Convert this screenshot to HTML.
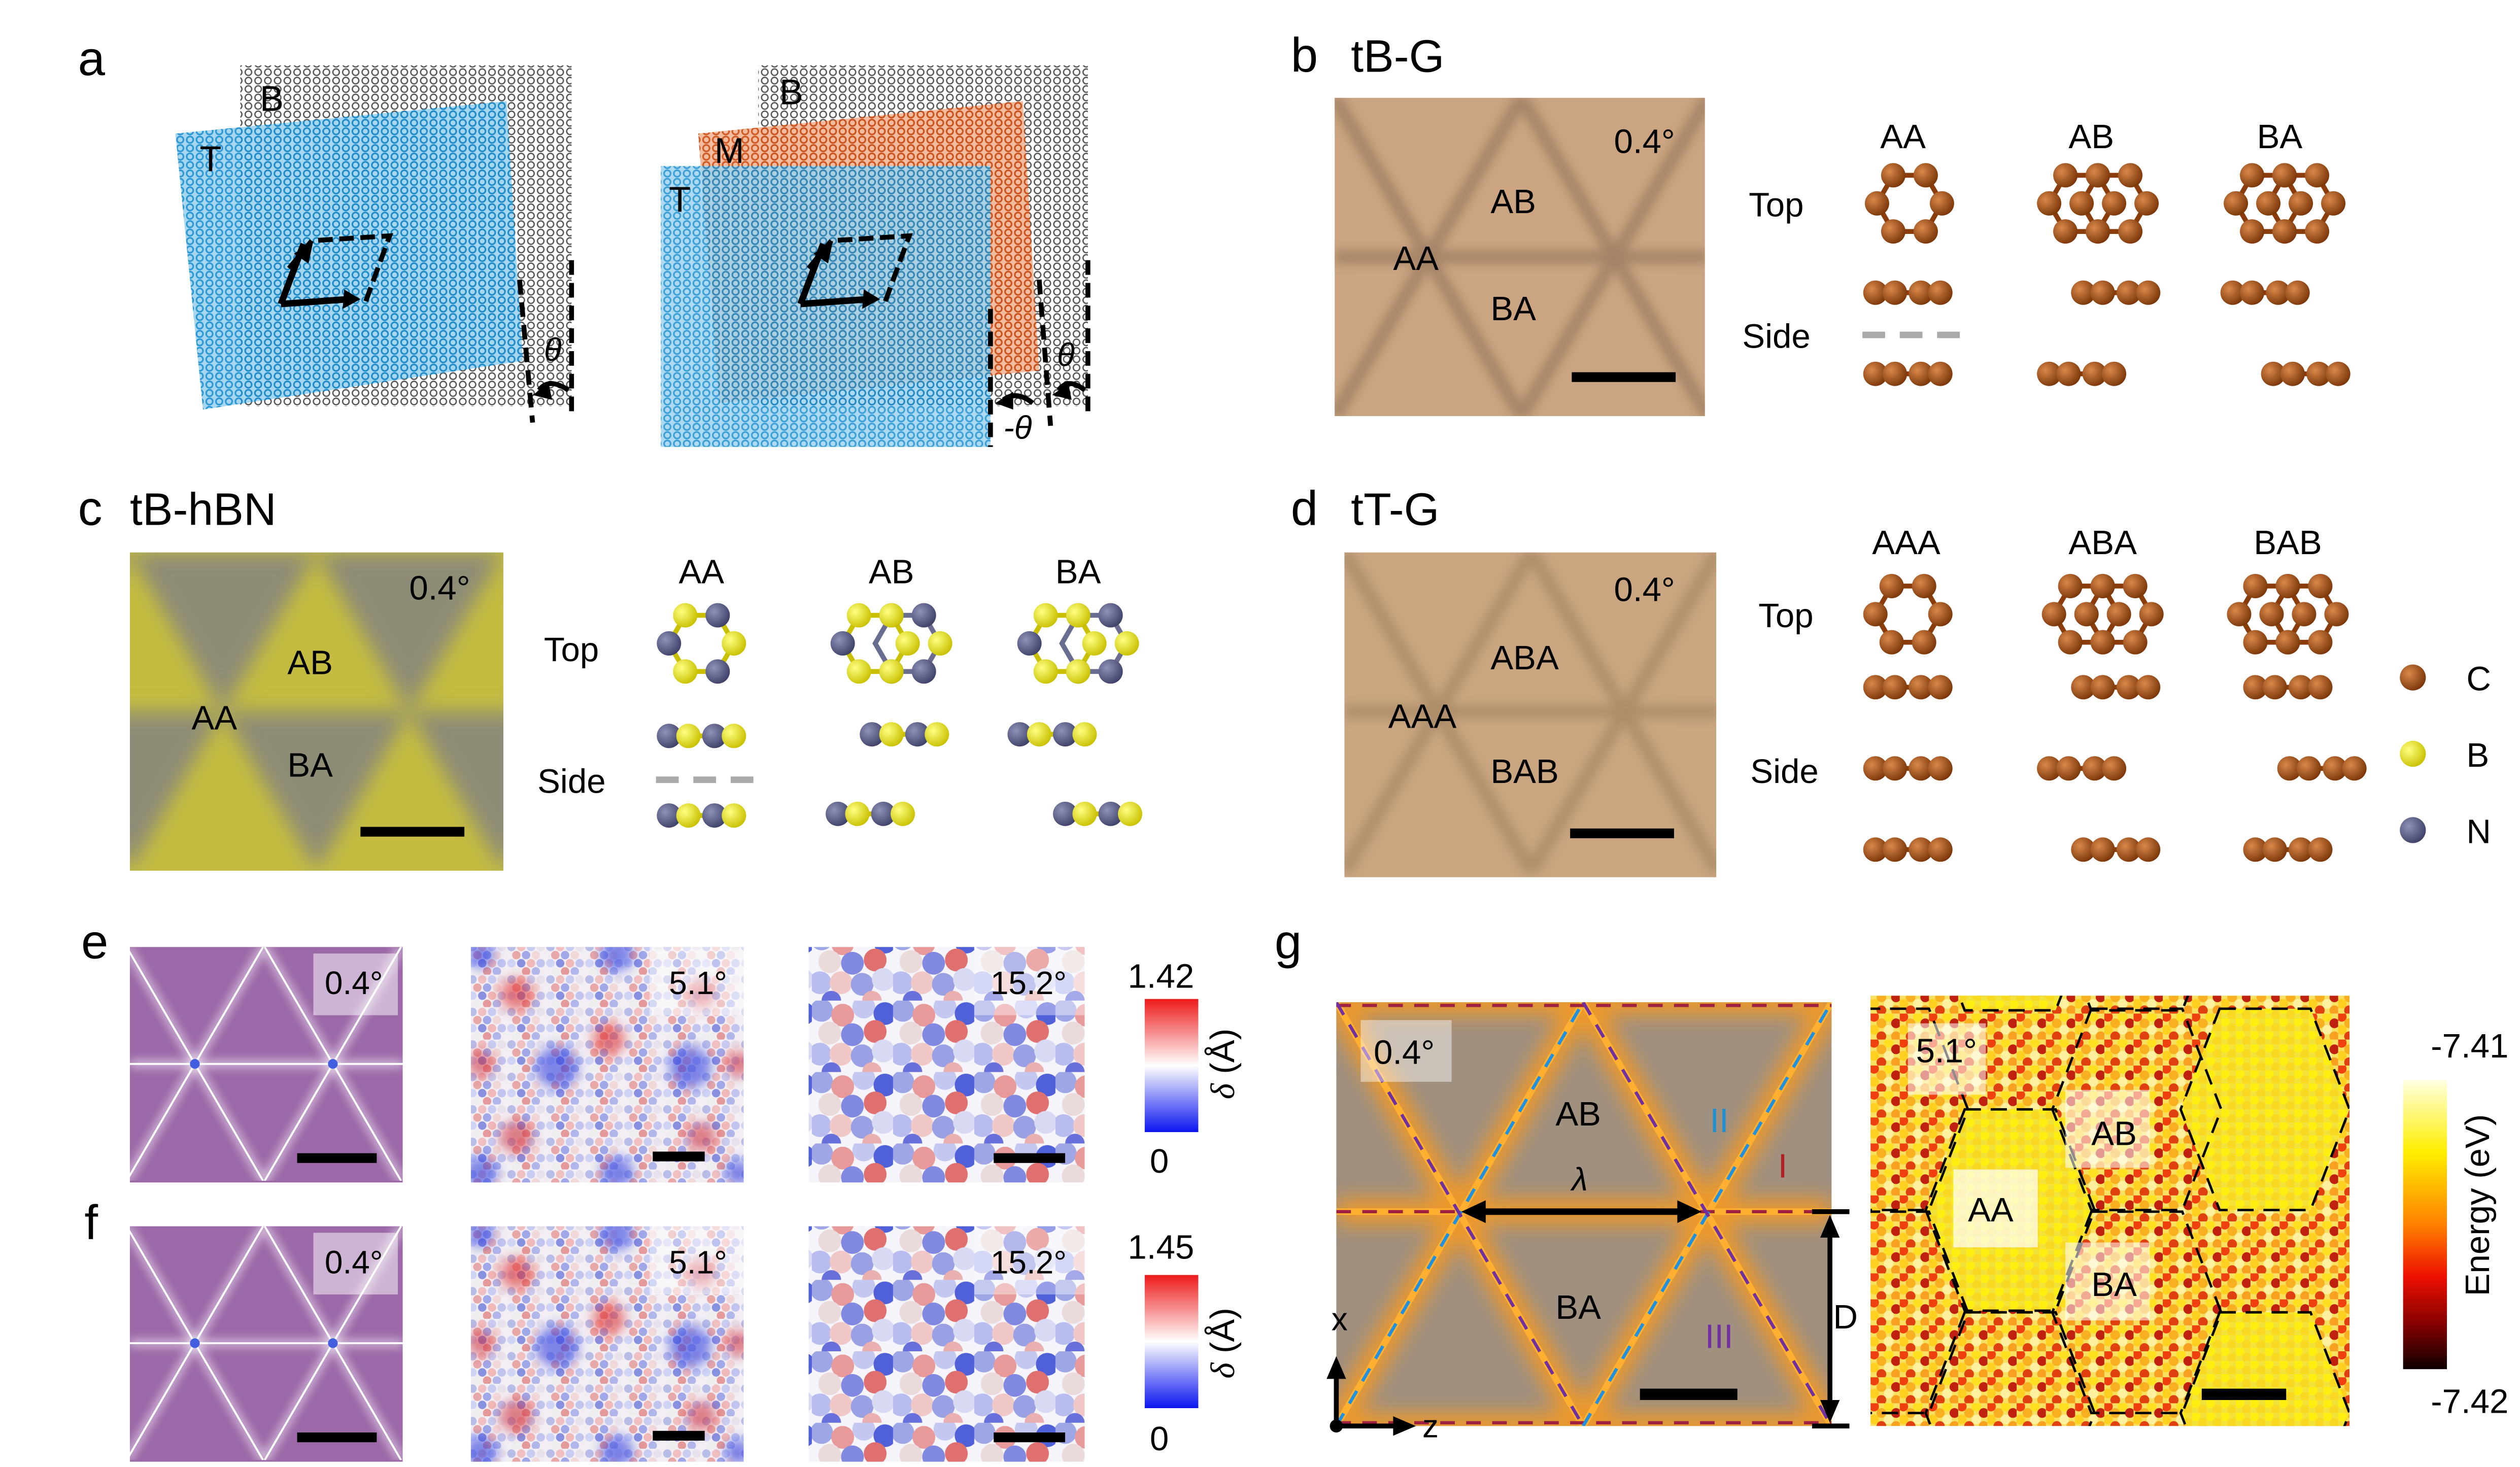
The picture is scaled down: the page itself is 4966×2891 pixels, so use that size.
<!DOCTYPE html>
<html><head><meta charset="utf-8"><style>html,body{margin:0;padding:0;background:#fff;width:4966px;height:2891px;overflow:hidden}svg{display:block}text{font-family:"Liberation Sans",sans-serif}</style></head><body>
<svg width="4966" height="2891" viewBox="0 0 1552 903" xmlns="http://www.w3.org/2000/svg" overflow="hidden">
<defs>
<radialGradient id="gc" cx="0.35" cy="0.35" r="0.7"><stop offset="0" stop-color="#d9884a"/><stop offset="1" stop-color="#7a3508"/></radialGradient>
<radialGradient id="gb" cx="0.35" cy="0.35" r="0.7"><stop offset="0" stop-color="#ffff80"/><stop offset="1" stop-color="#c8c000"/></radialGradient>
<radialGradient id="gn" cx="0.35" cy="0.35" r="0.7"><stop offset="0" stop-color="#8f92b8"/><stop offset="1" stop-color="#3e4068"/></radialGradient>
<g id="hexC"><polygon points="20,0 10,17.3 -10,17.3 -20,0 -10,-17.3 10,-17.3" fill="none" stroke="#8a3d0a" stroke-width="3"/>
<circle cx="20" cy="0" r="7.5" fill="url(#gc)"/><circle cx="10" cy="17.3" r="7.5" fill="url(#gc)"/><circle cx="-10" cy="17.3" r="7.5" fill="url(#gc)"/><circle cx="-20" cy="0" r="7.5" fill="url(#gc)"/><circle cx="-10" cy="-17.3" r="7.5" fill="url(#gc)"/><circle cx="10" cy="-17.3" r="7.5" fill="url(#gc)"/></g>
<g id="hexC2"><use href="#hexC" x="-10"/><use href="#hexC" x="10"/></g>
<g id="sideC"><line x1="-22" y1="0" x2="22" y2="0" stroke="#8a3d0a" stroke-width="3"/><circle cx="-20" r="7.5" fill="url(#gc)"/><circle cx="-8" r="7.5" fill="url(#gc)"/><circle cx="8" r="7.5" fill="url(#gc)"/><circle cx="20" r="7.5" fill="url(#gc)"/></g>
<g id="hexBN"><polygon points="20,0 10,17.3 -10,17.3 -20,0 -10,-17.3 10,-17.3" fill="none" stroke="#c8c000" stroke-width="3"/>
<circle cx="20" cy="0" r="7.5" fill="url(#gb)"/><circle cx="10" cy="17.3" r="7.5" fill="url(#gn)"/><circle cx="-10" cy="17.3" r="7.5" fill="url(#gb)"/><circle cx="-20" cy="0" r="7.5" fill="url(#gn)"/><circle cx="-10" cy="-17.3" r="7.5" fill="url(#gb)"/><circle cx="10" cy="-17.3" r="7.5" fill="url(#gn)"/></g>
<g id="hexBN2"><polygon points="30,0 20,17.3 0,17.3 -10,0 0,-17.3 20,-17.3" fill="none" stroke="#6a6c90" stroke-width="3"/><use href="#hexBN" x="-10"/>
<circle cx="30" cy="0" r="7.5" fill="url(#gb)"/><circle cx="20" cy="17.3" r="7.5" fill="url(#gn)"/><circle cx="0" cy="17.3" r="7.5" fill="url(#gb)"/><circle cx="20" cy="-17.3" r="7.5" fill="url(#gn)"/><circle cx="0" cy="-17.3" r="7.5" fill="url(#gb)"/></g>
<g id="sideBN"><line x1="-22" y1="0" x2="22" y2="0" stroke="#c8c000" stroke-width="3"/><circle cx="-20" r="7.5" fill="url(#gn)"/><circle cx="-8" r="7.5" fill="url(#gb)"/><circle cx="8" r="7.5" fill="url(#gn)"/><circle cx="20" r="7.5" fill="url(#gb)"/></g>
<pattern id="pgray" width="6" height="5.2" patternUnits="userSpaceOnUse"><rect width="6" height="5.2" fill="#fff"/><circle cx="3" cy="2.6" r="2" fill="none" stroke="#555" stroke-width="0.8"/></pattern>
<pattern id="pblue" width="6" height="5.2" patternUnits="userSpaceOnUse"><rect width="6" height="5.2" fill="#9fd3ee"/><circle cx="3" cy="2.6" r="2" fill="none" stroke="#1a8fd0" stroke-width="1"/></pattern>
<pattern id="porange" width="6" height="5.2" patternUnits="userSpaceOnUse"><rect width="6" height="5.2" fill="#f0b89a"/><circle cx="3" cy="2.6" r="2" fill="none" stroke="#d0521a" stroke-width="1"/></pattern>
<pattern id="pdots5" width="24" height="20" patternUnits="userSpaceOnUse"><rect width="24" height="20" fill="#f2eef4"/>
<circle cx="3" cy="3" r="2.6" fill="#b8bde8"/><circle cx="9" cy="3" r="2.6" fill="#f0c0c0"/><circle cx="15" cy="3" r="2.6" fill="#c8ccf0"/><circle cx="21" cy="3" r="2.6" fill="#e8e0ea"/>
<circle cx="6" cy="8" r="2.6" fill="#e8a8a8"/><circle cx="12" cy="8" r="2.6" fill="#a0a8e8"/><circle cx="18" cy="8" r="2.6" fill="#f0d8d8"/>
<circle cx="3" cy="13" r="2.6" fill="#d0d4f4"/><circle cx="9" cy="13" r="2.6" fill="#8890e0"/><circle cx="15" cy="13" r="2.6" fill="#f0b8b8"/><circle cx="21" cy="13" r="2.6" fill="#c0c4ee"/>
<circle cx="6" cy="18" r="2.6" fill="#eee" /><circle cx="12" cy="18" r="2.6" fill="#e49a9a"/><circle cx="18" cy="18" r="2.6" fill="#b0b6ea"/></pattern>
<pattern id="pdots15" width="50" height="44" patternUnits="userSpaceOnUse"><rect width="50" height="44" fill="#f4f4fa"/>
<circle cx="6" cy="6" r="7" fill="#9ea6e6"/><circle cx="19" cy="9" r="7" fill="#e89a9a"/><circle cx="32" cy="4" r="7" fill="#c4c8f0"/><circle cx="45" cy="8" r="7" fill="#5060d8"/>
<circle cx="11" cy="20" r="7" fill="#eadada"/><circle cx="25" cy="21" r="7" fill="#8088e0"/><circle cx="39" cy="19" r="7" fill="#e07070"/>
<circle cx="5" cy="33" r="7" fill="#b8bcee"/><circle cx="18" cy="33" r="7" fill="#f0c8c8"/><circle cx="31" cy="34" r="7" fill="#9aa0e4"/><circle cx="44" cy="31" r="7" fill="#d8daf4"/>
<circle cx="12" cy="44" r="6" fill="#6870dc"/><circle cx="37" cy="44" r="6" fill="#eab0b0"/></pattern>
<pattern id="pyel" width="9" height="8" patternUnits="userSpaceOnUse"><rect width="9" height="8" fill="#f2e23a"/><circle cx="2.2" cy="2" r="3" fill="#ffee10"/><circle cx="6.7" cy="6" r="3" fill="#f8d820"/></pattern>
<pattern id="pred" width="18" height="16" patternUnits="userSpaceOnUse"><rect width="18" height="16" fill="#f8e060"/><circle cx="2.2" cy="2" r="3" fill="#f04010"/><circle cx="6.7" cy="6" r="3" fill="#f8b020"/><circle cx="11.2" cy="2" r="3" fill="#ffe020"/><circle cx="15.7" cy="6" r="3" fill="#c02010"/><circle cx="2.2" cy="10" r="3" fill="#ffd020"/><circle cx="6.7" cy="14" r="3" fill="#e04010"/><circle cx="11.2" cy="10" r="3" fill="#fff0a0"/><circle cx="15.7" cy="14" r="3" fill="#f8a020"/></pattern>
<linearGradient id="cbd" x1="0" y1="0" x2="0" y2="1"><stop offset="0" stop-color="#ee1a1a"/><stop offset="0.5" stop-color="#ffffff"/><stop offset="1" stop-color="#0a14ee"/></linearGradient>
<linearGradient id="cbe" x1="0" y1="0" x2="0" y2="1"><stop offset="0" stop-color="#ffffe0"/><stop offset="0.25" stop-color="#ffee00"/><stop offset="0.5" stop-color="#ff8000"/><stop offset="0.68" stop-color="#ee1000"/><stop offset="0.85" stop-color="#800000"/><stop offset="1" stop-color="#100000"/></linearGradient>
<filter id="bl" x="-10%" y="-10%" width="120%" height="120%"><feGaussianBlur stdDeviation="6"/></filter>
<filter id="bl2" x="-10%" y="-10%" width="120%" height="120%"><feGaussianBlur stdDeviation="3"/></filter>
<filter id="bl3" x="-20%" y="-20%" width="140%" height="140%"><feGaussianBlur stdDeviation="3.5"/></filter>
<clipPath id="cb"><rect x="822" y="60" width="228" height="196"/></clipPath>
<clipPath id="cc"><rect x="80" y="340" width="230" height="196"/></clipPath>
<clipPath id="cd"><rect x="828" y="340" width="229" height="200"/></clipPath>
<clipPath id="ce"><rect x="80" y="583" width="168" height="144"/></clipPath>
<clipPath id="ce5"><rect x="290" y="583" width="168" height="145"/></clipPath>
<clipPath id="cg"><rect x="823" y="617" width="305" height="261"/></clipPath>
<clipPath id="cg2"><rect x="1152" y="613" width="295" height="265"/></clipPath>
<g id="lat"><line x1="0" y1="98" x2="230" y2="98"/><line x1="115" y1="0" x2="230" y2="196"/><line x1="230" y1="0" x2="115" y2="196"/><line x1="115" y1="0" x2="0" y2="196"/><line x1="0" y1="0" x2="115" y2="196"/></g>
<polygon id="hx" points="-28,-62 28,-62 52,0 28,62 -28,62 -52,0"/>
<g id="purpimg">
<rect x="80" y="583" width="168" height="145" fill="#9c68a8"/>
<g clip-path="url(#ce)" stroke="#f4eef6" stroke-width="3" filter="url(#bl2)"><line x1="80" y1="655" x2="248" y2="655"/><line x1="78" y1="583" x2="162" y2="727"/><line x1="162" y1="583" x2="78" y2="727"/><line x1="163" y1="583" x2="247" y2="727"/><line x1="247" y1="583" x2="163" y2="727"/></g>
<g clip-path="url(#ce)" stroke="#fff" stroke-width="1.2"><line x1="80" y1="655" x2="248" y2="655"/><line x1="78" y1="583" x2="162" y2="727"/><line x1="162" y1="583" x2="78" y2="727"/><line x1="163" y1="583" x2="247" y2="727"/><line x1="247" y1="583" x2="163" y2="727"/></g>
<circle cx="120" cy="655" r="3" fill="#4060e0"/><circle cx="205" cy="655" r="3" fill="#4060e0"/>
<rect x="193" y="587" width="52" height="38" fill="#fff" opacity="0.5"/>
<text x="200" y="612" font-size="20">0.4°</text>
<rect x="183" y="710" width="49" height="6" fill="#000"/>
<rect x="290" y="583" width="168" height="145" fill="url(#pdots5)"/>
<g clip-path="url(#ce5)"><g filter="url(#bl3)" opacity="0.6">
<circle cx="318" cy="612" r="10" fill="#e03030"/><circle cx="375" cy="640" r="10" fill="#e03030"/><circle cx="432" cy="612" r="9" fill="#d03040"/><circle cx="318" cy="700" r="10" fill="#d03040"/><circle cx="432" cy="700" r="9" fill="#d03040"/><circle cx="296" cy="655" r="8" fill="#d03040"/><circle cx="455" cy="655" r="8" fill="#d03040"/>
<circle cx="343" cy="657" r="13" fill="#3040e0"/><circle cx="425" cy="657" r="13" fill="#3040e0"/><circle cx="296" cy="722" r="10" fill="#3040e0"/><circle cx="380" cy="722" r="10" fill="#3040e0"/><circle cx="380" cy="588" r="10" fill="#3040e0"/><circle cx="296" cy="588" r="8" fill="#3040e0"/><circle cx="455" cy="722" r="8" fill="#3040e0"/></g></g>
<rect x="400" y="583" width="58" height="42" fill="#fff" opacity="0.45"/>
<text x="412" y="612" font-size="20">5.1°</text>
<rect x="402" y="709" width="32" height="6" fill="#000"/>
<rect x="498" y="583" width="170" height="145" fill="url(#pdots15)"/>
<rect x="600" y="583" width="68" height="42" fill="#fff" opacity="0.4"/>
<text x="610" y="612" font-size="20">15.2°</text>
<rect x="612" y="710" width="44" height="6" fill="#000"/>
<text x="0" y="0" font-size="21" transform="translate(760,655) rotate(-90)" text-anchor="middle"><tspan font-style="italic" font-family="Liberation Serif,serif">δ</tspan> (Å)</text>
</g>
</defs>
<rect width="1552" height="903" fill="#fff"/>

<!-- panel a -->
<text x="48" y="46" font-size="30">a</text>
<rect x="148" y="40" width="204" height="210" fill="url(#pgray)"/>
<polygon points="108,82 312,62 322,222 125,252" fill="url(#pblue)" opacity="0.92"/>
<text x="160" y="68" font-size="22">B</text><text x="123" y="105" font-size="22">T</text>
<path d="M178,165 L192,148 L240,145 L225,186" fill="none" stroke="#000" stroke-width="3" stroke-dasharray="9,4"/>
<path d="M173,187 L187,150 M173,187 L215,184" stroke="#000" stroke-width="4" fill="none"/>
<polygon points="181,156 193,148 190,162" fill="#000"/><polygon points="212,178 222,184 211,190" fill="#000"/>
<line x1="320" y1="172" x2="328" y2="260" stroke="#000" stroke-width="3" stroke-dasharray="9,5"/>
<line x1="352" y1="160" x2="352" y2="258" stroke="#000" stroke-width="3" stroke-dasharray="9,5"/>
<text x="335" y="222" font-size="20" font-style="italic" font-family="Liberation Serif,serif">θ</text>
<path d="M350,240 Q338,232 332,240" stroke="#000" stroke-width="3" fill="none"/><polygon points="328,243 338,236 340,246" fill="#000"/>

<rect x="467" y="40" width="203" height="210" fill="url(#pgray)"/>
<polygon points="430,82 630,62 640,228 443,248" fill="url(#porange)" opacity="0.95"/>
<rect x="407" y="102" width="203" height="173" fill="url(#pblue)" opacity="0.85"/>
<text x="480" y="64" font-size="22">B</text><text x="440" y="100" font-size="22">M</text><text x="412" y="130" font-size="22">T</text>
<path d="M498,165 L512,148 L560,145 L545,186" fill="none" stroke="#000" stroke-width="3" stroke-dasharray="9,4"/>
<path d="M493,187 L507,150 M493,187 L535,184" stroke="#000" stroke-width="4" fill="none"/>
<polygon points="501,156 513,148 510,162" fill="#000"/><polygon points="532,178 542,184 531,190" fill="#000"/>
<line x1="610" y1="190" x2="610" y2="275" stroke="#000" stroke-width="3" stroke-dasharray="9,5"/>
<line x1="640" y1="172" x2="647" y2="262" stroke="#000" stroke-width="3" stroke-dasharray="9,5"/>
<line x1="670" y1="160" x2="670" y2="258" stroke="#000" stroke-width="3" stroke-dasharray="9,5"/>
<text x="651" y="225" font-size="20" font-style="italic" font-family="Liberation Serif,serif">θ</text>
<text x="618" y="270" font-size="20" font-style="italic" font-family="Liberation Serif,serif">-θ</text>
<path d="M636,248 Q626,240 618,246" stroke="#000" stroke-width="3" fill="none"/><polygon points="613,248 624,241 624,252" fill="#000"/>
<path d="M668,240 Q658,232 652,240" stroke="#000" stroke-width="3" fill="none"/><polygon points="648,243 658,236 660,246" fill="#000"/>

<!-- panel b -->
<text x="795" y="44" font-size="30">b</text><text x="832" y="44" font-size="28">tB-G</text>
<rect x="822" y="60" width="228" height="196" fill="#cba582"/>
<g clip-path="url(#cb)"><g transform="translate(822,60)" stroke="#9c7c60" stroke-width="8" opacity="0.8" filter="url(#bl2)"><use href="#lat"/></g></g>
<text x="994" y="94" font-size="21">0.4°</text>
<text x="918" y="131" font-size="21">AB</text><text x="858" y="166" font-size="21">AA</text><text x="918" y="197" font-size="21">BA</text>
<rect x="968" y="229" width="64" height="6" fill="#000"/>
<text x="1172" y="91" font-size="21" text-anchor="middle">AA</text><text x="1288" y="91" font-size="21" text-anchor="middle">AB</text><text x="1404" y="91" font-size="21" text-anchor="middle">BA</text>
<text x="1077" y="133" font-size="21">Top</text><text x="1073" y="214" font-size="21">Side</text>
<use href="#hexC" x="1176" y="125"/><use href="#hexC2" x="1292" y="125"/><use href="#hexC2" x="1407" y="125"/>
<use href="#sideC" x="1175" y="180"/><use href="#sideC" x="1303" y="180"/><use href="#sideC" x="1395" y="180"/>
<line x1="1147" y1="206" x2="1212" y2="206" stroke="#aaa" stroke-width="4" stroke-dasharray="14,9"/>
<use href="#sideC" x="1175" y="230"/><use href="#sideC" x="1282" y="230"/><use href="#sideC" x="1420" y="230"/>

<!-- panel c -->
<text x="48" y="323" font-size="30">c</text><text x="80" y="323" font-size="28">tB-hBN</text>
<rect x="80" y="340" width="230" height="196" fill="#c4bc40"/>
<g clip-path="url(#cc)"><g transform="translate(80,340)" fill="#8e8c76" filter="url(#bl)">
<polygon points="0,0 115,0 57,98"/><polygon points="115,0 230,0 172,98"/><polygon points="-115,0 0,0 -57,98"/>
<polygon points="-57,98 57,98 0,196"/><polygon points="57,98 172,98 115,196"/><polygon points="172,98 287,98 230,196"/></g></g>
<text x="252" y="369" font-size="21">0.4°</text>
<text x="177" y="415" font-size="21">AB</text><text x="118" y="449" font-size="21">AA</text><text x="177" y="478" font-size="21">BA</text>
<rect x="222" y="509" width="64" height="6" fill="#000"/>
<text x="432" y="359" font-size="21" text-anchor="middle">AA</text><text x="549" y="359" font-size="21" text-anchor="middle">AB</text><text x="664" y="359" font-size="21" text-anchor="middle">BA</text>
<text x="335" y="407" font-size="21">Top</text><text x="331" y="488" font-size="21">Side</text>
<use href="#hexBN" x="432" y="396"/><use href="#hexBN2" x="549" y="396"/><use href="#hexBN2" x="664" y="396"/>
<use href="#sideBN" x="432" y="453"/><use href="#sideBN" x="557" y="452"/><use href="#sideBN" x="648" y="452"/>
<line x1="404" y1="480" x2="470" y2="480" stroke="#aaa" stroke-width="4" stroke-dasharray="14,9"/>
<use href="#sideBN" x="432" y="502"/><use href="#sideBN" x="536" y="501"/><use href="#sideBN" x="676" y="501"/>

<!-- panel d -->
<text x="795" y="323" font-size="30">d</text><text x="832" y="323" font-size="28">tT-G</text>
<rect x="828" y="340" width="229" height="200" fill="#c9a680"/>
<g clip-path="url(#cd)"><g transform="translate(828,340)" stroke="#a88866" stroke-width="8" opacity="0.8" filter="url(#bl2)"><use href="#lat"/></g></g>
<text x="994" y="370" font-size="21">0.4°</text>
<text x="918" y="412" font-size="21">ABA</text><text x="855" y="448" font-size="21">AAA</text><text x="918" y="482" font-size="21">BAB</text>
<rect x="967" y="510" width="64" height="6" fill="#000"/>
<text x="1174" y="341" font-size="21" text-anchor="middle">AAA</text><text x="1295" y="341" font-size="21" text-anchor="middle">ABA</text><text x="1409" y="341" font-size="21" text-anchor="middle">BAB</text>
<text x="1083" y="386" font-size="21">Top</text><text x="1078" y="482" font-size="21">Side</text>
<use href="#hexC" x="1175" y="378"/><use href="#hexC2" x="1295" y="378"/><use href="#hexC2" x="1409" y="378"/>
<use href="#sideC" x="1175" y="423"/><use href="#sideC" x="1303" y="423"/><use href="#sideC" x="1409" y="423"/>
<use href="#sideC" x="1175" y="473"/><use href="#sideC" x="1282" y="473"/><use href="#sideC" x="1430" y="473"/>
<use href="#sideC" x="1175" y="523"/><use href="#sideC" x="1303" y="523"/><use href="#sideC" x="1409" y="523"/>
<circle cx="1486" cy="417" r="8" fill="url(#gc)"/><text x="1519" y="425" font-size="21">C</text>
<circle cx="1486" cy="464" r="8" fill="url(#gb)"/><text x="1519" y="472" font-size="21">B</text>
<circle cx="1486" cy="511" r="8" fill="url(#gn)"/><text x="1519" y="519" font-size="21">N</text>

<!-- panel e/f -->
<text x="50" y="590" font-size="30">e</text><text x="52" y="763" font-size="30">f</text>
<use href="#purpimg"/>
<rect x="705" y="615" width="33" height="82" fill="url(#cbd)"/>
<text x="715" y="608" font-size="21" text-anchor="middle">1.42</text><text x="714" y="722" font-size="21" text-anchor="middle">0</text>
<use href="#purpimg" y="172"/>
<rect x="705" y="785" width="33" height="82" fill="url(#cbd)"/>
<text x="715" y="775" font-size="21" text-anchor="middle">1.45</text><text x="714" y="893" font-size="21" text-anchor="middle">0</text>

<!-- panel g -->
<text x="785" y="590" font-size="30">g</text>
<rect x="823" y="617" width="305" height="261" fill="#a09080"/>
<g clip-path="url(#cg)">
<g stroke="#f59a20" stroke-width="16" filter="url(#bl)" opacity="0.9"><line x1="823" y1="746" x2="1128" y2="746"/><line x1="823" y1="617" x2="1128" y2="617"/><line x1="823" y1="878" x2="1128" y2="878"/>
<line x1="823" y1="878" x2="975" y2="617"/><line x1="975" y1="617" x2="1128" y2="878"/><line x1="975" y1="878" x2="1128" y2="617"/><line x1="823" y1="617" x2="975" y2="878"/></g>
<g stroke="#ffb030" stroke-width="4"><line x1="823" y1="746" x2="1128" y2="746"/><line x1="823" y1="878" x2="975" y2="617"/><line x1="975" y1="617" x2="1128" y2="878"/><line x1="975" y1="878" x2="1128" y2="617"/><line x1="823" y1="617" x2="975" y2="878"/></g>
<g stroke-width="2" stroke-dasharray="9,7"><line x1="823" y1="746" x2="1128" y2="746" stroke="#a02040"/><line x1="823" y1="619" x2="1128" y2="619" stroke="#a02040"/><line x1="823" y1="876" x2="1128" y2="876" stroke="#a02040"/>
<line x1="823" y1="878" x2="975" y2="617" stroke="#2090e0"/><line x1="975" y1="878" x2="1128" y2="617" stroke="#2090e0"/><line x1="975" y1="617" x2="1128" y2="878" stroke="#7030a0"/><line x1="823" y1="617" x2="975" y2="878" stroke="#7030a0"/></g>
</g>
<rect x="838" y="628" width="56" height="38" fill="#fff" opacity="0.45"/>
<text x="846" y="655" font-size="21">0.4°</text>
<text x="958" y="693" font-size="21">AB</text><text x="958" y="812" font-size="21">BA</text>
<text x="968" y="733" font-size="20" font-style="italic" font-family="Liberation Serif,serif">λ</text>
<text x="1053" y="697" font-size="21" fill="#2090d0">II</text><text x="1095" y="725" font-size="21" fill="#b02020">I</text><text x="1050" y="830" font-size="21" fill="#7030a0">III</text>
<line x1="912" y1="746" x2="1036" y2="746" stroke="#000" stroke-width="4"/><polygon points="900,746 915,739 915,753" fill="#000"/><polygon points="1048,746 1033,739 1033,753" fill="#000"/>
<line x1="1116" y1="746" x2="1139" y2="746" stroke="#000" stroke-width="3"/><line x1="1116" y1="878" x2="1139" y2="878" stroke="#000" stroke-width="3"/>
<line x1="1127" y1="760" x2="1127" y2="864" stroke="#000" stroke-width="3"/><polygon points="1127,748 1121,762 1133,762" fill="#000"/><polygon points="1127,876 1121,862 1133,862" fill="#000"/>
<text x="1129" y="818" font-size="21">D</text>
<rect x="1010" y="855" width="60" height="7" fill="#000"/>
<line x1="823" y1="878" x2="823" y2="845" stroke="#000" stroke-width="3"/><polygon points="823,835 817,849 829,849" fill="#000"/>
<line x1="823" y1="878" x2="862" y2="878" stroke="#000" stroke-width="3"/><polygon points="872,878 858,872 858,884" fill="#000"/>
<circle cx="823" cy="878" r="4" fill="#000"/>
<text x="820" y="819" font-size="20">x</text><text x="876" y="885" font-size="20">z</text>

<rect x="1152" y="613" width="295" height="265" fill="url(#pred)"/>
<g clip-path="url(#cg2)">
<g fill="url(#pyel)" stroke="#000" stroke-width="1.5" stroke-dasharray="10,6">
<use href="#hx" x="1238" y="745"/>
<use href="#hx" x="1395" y="683"/>
<use href="#hx" x="1395" y="870"/>
<use href="#hx" x="1238" y="560"/>
</g>
<g fill="none" stroke="#000" stroke-width="1.5" stroke-dasharray="10,6">
<use href="#hx" x="1160" y="683"/><use href="#hx" x="1316" y="683"/><use href="#hx" x="1316" y="808"/><use href="#hx" x="1160" y="808"/><use href="#hx" x="1238" y="870"/><use href="#hx" x="1316" y="560"/>
</g></g>
<rect x="1175" y="630" width="48" height="44" fill="#fff" opacity="0.55"/>
<rect x="1272" y="671" width="52" height="48" fill="#fff" opacity="0.55"/>
<rect x="1203" y="720" width="52" height="48" fill="#fff" opacity="0.7"/>
<rect x="1272" y="765" width="52" height="48" fill="#fff" opacity="0.55"/>
<text x="1180" y="654" font-size="21">5.1°</text>
<text x="1288" y="705" font-size="21">AB</text><text x="1212" y="752" font-size="21">AA</text><text x="1288" y="798" font-size="21">BA</text>
<rect x="1356" y="855" width="52" height="7" fill="#000"/>
<rect x="1480" y="665" width="27" height="178" fill="url(#cbe)"/>
<text x="1521" y="651" font-size="21" text-anchor="middle">-7.41</text><text x="1521" y="870" font-size="21" text-anchor="middle">-7.42</text>
<text x="0" y="0" font-size="21" transform="translate(1533,742) rotate(-90)" text-anchor="middle">Energy (eV)</text>
</svg>
</body></html>
